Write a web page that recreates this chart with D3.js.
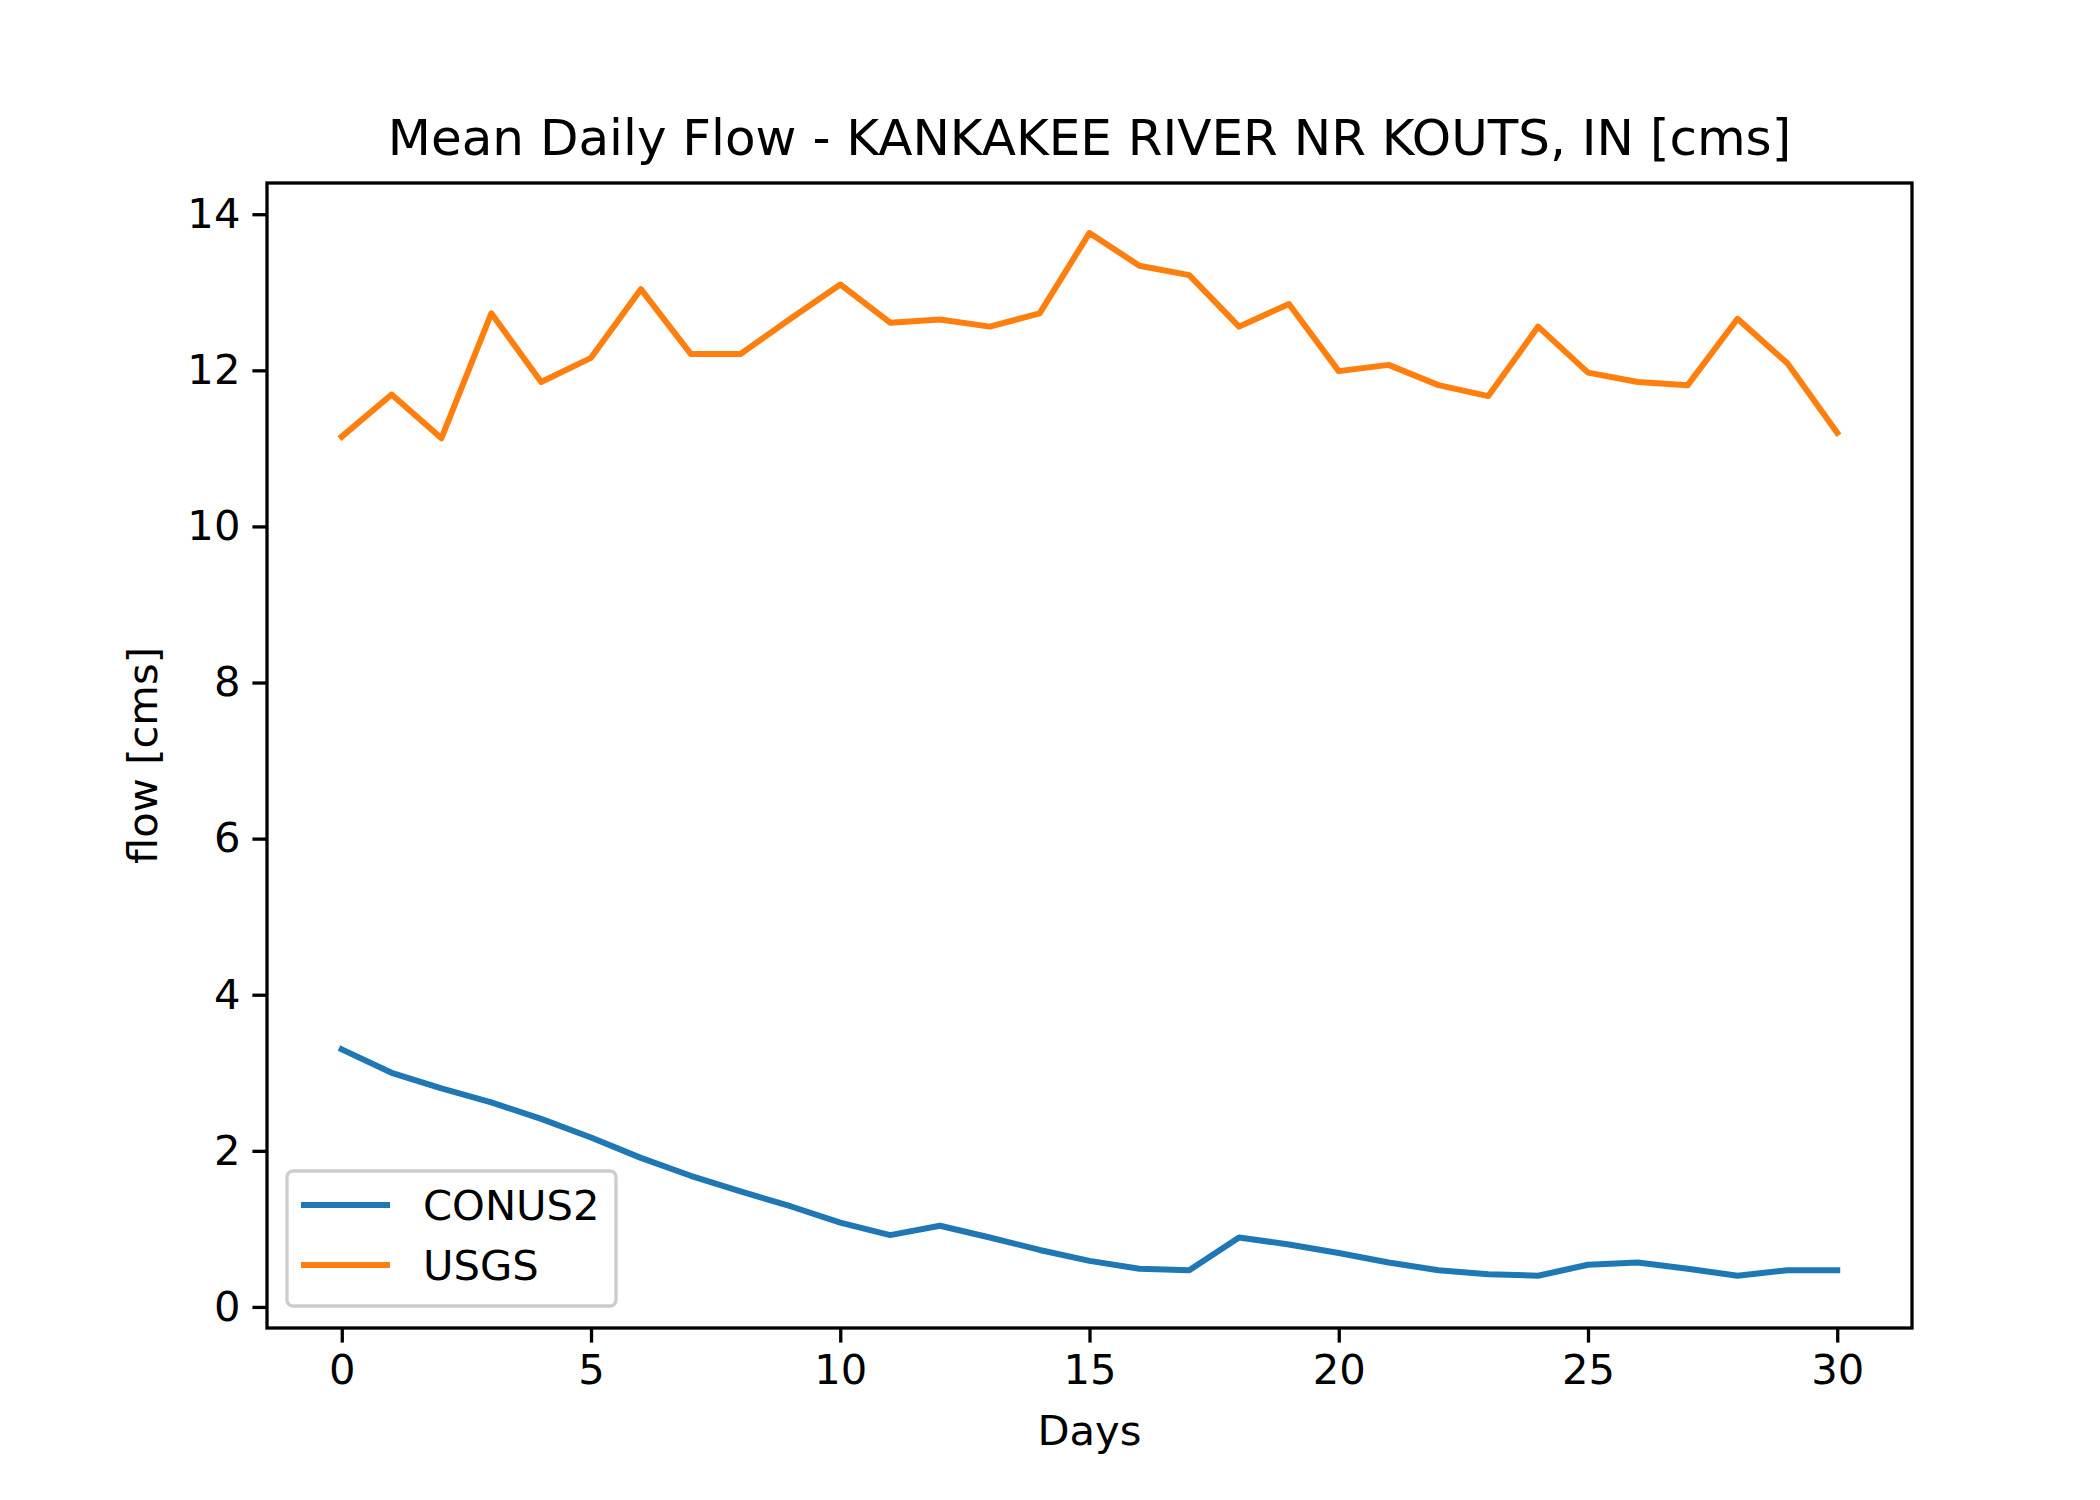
<!DOCTYPE html>
<html><head><meta charset="utf-8">
<script src="https://cdn.jsdelivr.net/npm/d3@7"></script>
<style>body{margin:0;background:#fff}text{font-family:"DejaVu Sans";fill:#000}</style>
</head><body>
<svg id="c" width="2100" height="1500"></svg>
<script>
const days = d3.range(31);
const conus2 = [3.30,3.00,2.80,2.62,2.41,2.17,1.91,1.68,1.48,1.29,1.08,0.92,1.04,0.89,0.73,0.59,0.49,0.47,0.89,0.80,0.69,0.57,0.47,0.42,0.40,0.54,0.57,0.49,0.40,0.47,0.47];
const usgs = [11.15,11.69,11.13,12.73,11.85,12.16,13.04,12.21,12.21,12.66,13.10,12.61,12.65,12.56,12.73,13.76,13.34,13.22,12.56,12.85,11.99,12.07,11.81,11.67,12.56,11.97,11.85,11.81,12.66,12.09,11.20];
const xTicks = [0,5,10,15,20,25,30];
const yTicks = [0,2,4,6,8,10,12,14];
const series = [{name:"CONUS2",values:conus2,color:"#1f77b4"},{name:"USGS",values:usgs,color:"#ff7f0e"}];

const L=267,R=1912,T=183,B=1328;
const svg=d3.select("#c");
const x=d3.scaleLinear().domain([-1.5,31.5]).range([L,R]);
const y=d3.scaleLinear().domain([-0.27,14.4]).range([B,T]);
const line=d3.line().x((d,i)=>x(days[i])).y(d=>y(d));
series.forEach(s=>svg.append("path").attr("d",line(s.values)).attr("fill","none")
  .attr("stroke",s.color).attr("stroke-width",6).attr("stroke-linejoin","round").attr("stroke-linecap","square"));

const xa=svg.append("g").attr("transform",`translate(0,${B})`)
  .call(d3.axisBottom(x).tickValues(xTicks).tickSize(14.6).tickPadding(12));
const ya=svg.append("g").attr("transform",`translate(${L},0)`)
  .call(d3.axisLeft(y).tickValues(yTicks).tickSize(14.6).tickPadding(12));
[xa,ya].forEach(a=>{a.select(".domain").remove();a.selectAll("line").attr("stroke","#000").attr("stroke-width",3.3);
  a.selectAll("text").style("font-family","DejaVu Sans").style("font-size","41.7px");});
svg.append("rect").attr("x",L).attr("y",T).attr("width",R-L).attr("height",B-T)
  .attr("fill","none").attr("stroke","#000").attr("stroke-width",3.3);

svg.append("text").attr("x",(L+R)/2).attr("y",155).attr("text-anchor","middle").style("font-size","50px")
  .text("Mean Daily Flow - KANKAKEE RIVER NR KOUTS, IN [cms]");
svg.append("text").attr("x",(L+R)/2).attr("y",1445).attr("text-anchor","middle").style("font-size","41.7px").text("Days");
svg.append("text").attr("transform",`translate(157,${(T+B)/2}) rotate(-90)`).attr("text-anchor","middle")
  .style("font-size","41.7px").text("flow [cms]");

const lg=svg.append("g");
lg.append("rect").attr("x",287).attr("y",1171).attr("width",329).attr("height",135).attr("rx",6)
  .attr("fill","#fff").attr("fill-opacity",0.8).attr("stroke","#ccc").attr("stroke-width",3.3);
series.forEach((s,i)=>{const yy=1205+i*60;
  lg.append("line").attr("x1",301).attr("x2",390).attr("y1",yy).attr("y2",yy).attr("stroke",s.color).attr("stroke-width",6);
  lg.append("text").attr("x",423).attr("y",yy+15).style("font-size","41.7px").text(s.name);});
</script></body></html>
